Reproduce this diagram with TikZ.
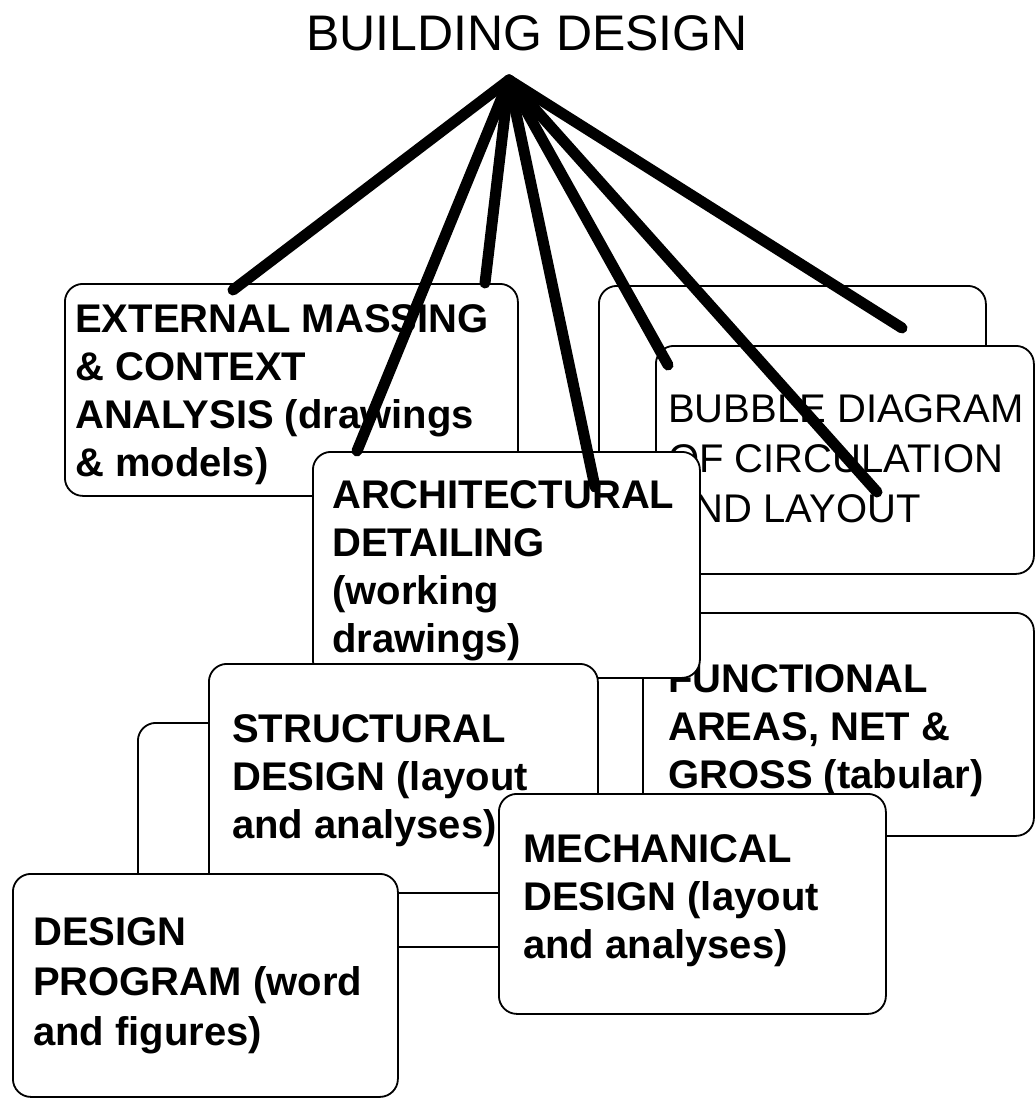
\documentclass[tikz,border=0pt]{standalone}
\usepackage{fontspec}
\setmainfont{Liberation Sans}
\begin{document}
\begin{tikzpicture}[x=1pt,y=-1pt,
  box/.style={draw=black,fill=white,line width=1.8pt,rounded corners=18pt,anchor=north west,inner sep=0pt},
  lbl/.style={anchor=base west,align=left,inner sep=0pt,font=\fontsize{40}{48}\selectfont\bfseries},
  lblr/.style={anchor=base west,align=left,inner sep=0pt,font=\fontsize{40}{50}\selectfont},
  spoke/.style={line width=11pt,line cap=round,black}]
\useasboundingbox (0,0) rectangle (1034,1098);
\fill[white] (0,0) rectangle (1034,1098);

\node[anchor=base,inner sep=0pt,font=\fontsize{50}{60}\selectfont] (title) at (527,50) {BUILDING DESIGN};
\coordinate (apex) at (509,80);

% back box behind bubble diagram
\node[box,minimum width=387pt,minimum height=228pt] (B0) at (598,285) {};
\node[box,minimum width=378pt,minimum height=228pt] (Bu) at (655,345) {};
\node[lblr] (tBu) at (668,522) {BUBBLE DIAGRAM\\OF CIRCULATION\\AND LAYOUT};

\node[box,minimum width=453pt,minimum height=212pt] (E) at (64,283) {};
\node[lbl] (tE) at (75,476) {EXTERNAL MASSING\\\& CONTEXT\\ANALYSIS (drawings\\\& models)};

\node[box,minimum width=391pt,minimum height=223pt] (F) at (642,612) {};
\node[lbl] (tF) at (668,788) {FUNCTIONAL\\AREAS, NET \&\\GROSS (tabular)};

\node[box,minimum width=387pt,minimum height=226pt] (A) at (312,451) {};
\node[lbl] (tA) at (332,652) {ARCHITECTURAL\\DETAILING\\(working\\drawings)};

\node[box,minimum width=389pt,minimum height=224pt] (S0) at (137,722) {};
\node[box,minimum width=389pt,minimum height=229pt] (S) at (208,663) {};
\node[lbl] (tS) at (232,838) {STRUCTURAL\\DESIGN (layout\\and analyses)};

\node[box,minimum width=387pt,minimum height=220pt] (M) at (498,793) {};
\node[lbl] (tM) at (523,958) {MECHANICAL\\DESIGN (layout\\and analyses)};

\node[box,minimum width=385pt,minimum height=223pt] (D) at (12,873) {};
\node[lbl,font=\fontsize{40}{50}\selectfont\bfseries] (tD) at (33,1045) {DESIGN\\PROGRAM (word\\and figures)};

% spoke end points
\coordinate (e1) at (233,290);
\coordinate (e2) at (485,283);
\coordinate (e3) at (357,451);
\coordinate (e4) at (595,487);
\coordinate (e5) at (668,365);
\coordinate (e6) at (877,492);
\coordinate (e7) at (902,328);
\foreach \e in {e1,e2,e3,e4,e5,e6,e7} \draw[spoke] (apex) -- (\e);
\end{tikzpicture}
\end{document}
